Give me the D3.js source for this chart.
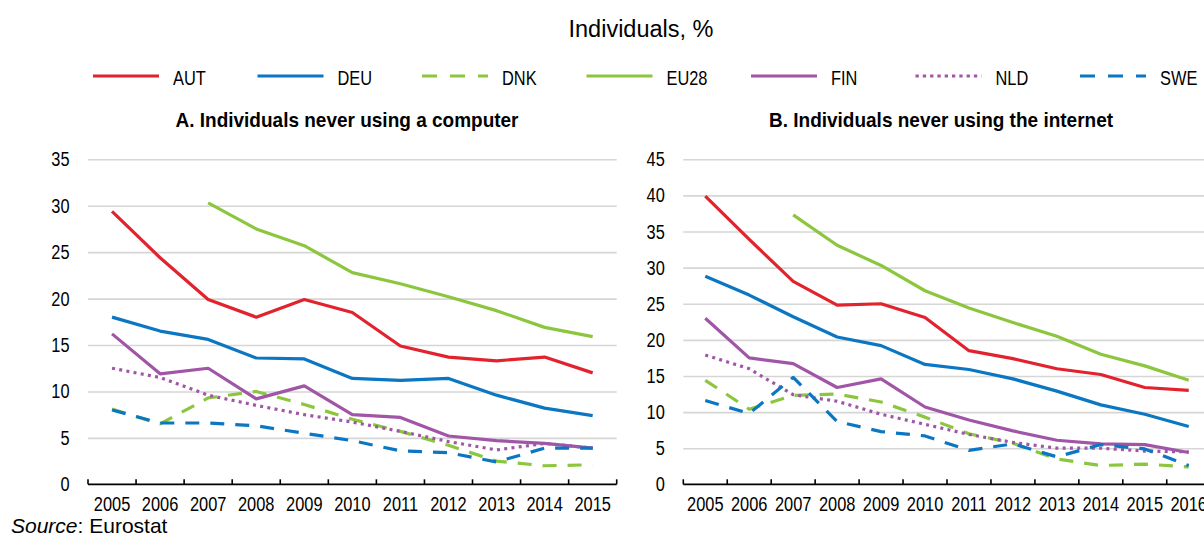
<!DOCTYPE html>
<html>
<head>
<meta charset="utf-8">
<script src="https://cdn.jsdelivr.net/npm/d3@7"></script>
<style>
  body { margin: 0; background: #fff; }
  svg { display: block; font-family: "Liberation Sans", Arial, sans-serif; }
</style>
</head>
<body>
<svg id="chart" width="1204" height="536"></svg>
<script>
// Panel A: individuals never using a computer (%)
const yearsA = [2005, 2006, 2007, 2008, 2009, 2010, 2011, 2012, 2013, 2014, 2015];
const autA  = [29.4, 24.4, 19.9, 18.0, 19.9, 18.5, 14.9, 13.7, 13.3, 13.7, 12.0];
const deuA  = [18.0, 16.5, 15.6, 13.6, 13.5, 11.4, 11.2, 11.4, 9.6, 8.2, 7.4];
const dnkA  = [8.1, 6.5, 9.3, 10.0, 8.6, 7.0, 5.7, 4.2, 2.5, 2.0, 2.1];
const eu28A = [null, null, 30.3, 27.5, 25.7, 22.8, 21.6, 20.2, 18.7, 16.9, 15.9];
const finA  = [16.2, 11.9, 12.5, 9.2, 10.6, 7.5, 7.2, 5.2, 4.7, 4.4, 3.9];
const nldA  = [12.5, 11.5, 9.6, 8.5, 7.5, 6.7, 5.7, 4.6, 3.7, 4.4, 3.9];
const sweA  = [8.0, 6.6, 6.6, 6.3, 5.5, 4.7, 3.6, 3.4, 2.4, 3.9, 3.9];

// Panel B: individuals never using the internet (%)
const yearsB = [2005, 2006, 2007, 2008, 2009, 2010, 2011, 2012, 2013, 2014, 2015, 2016];
const autB  = [39.9, 33.9, 28.1, 24.8, 25.0, 23.1, 18.5, 17.4, 16.0, 15.2, 13.4, 13.0];
const deuB  = [28.8, 26.2, 23.2, 20.4, 19.2, 16.6, 15.9, 14.6, 12.9, 11.0, 9.7, 8.0];
const dnkB  = [14.4, 10.4, 12.3, 12.5, 11.4, 9.3, 7.0, 5.7, 3.5, 2.6, 2.8, 2.4];
const eu28B = [null, null, 37.3, 33.1, 30.3, 26.8, 24.4, 22.4, 20.5, 18.0, 16.4, 14.4];
const finB  = [23.0, 17.5, 16.7, 13.4, 14.6, 10.7, 8.9, 7.4, 6.1, 5.6, 5.5, 4.4];
const nldB  = [17.9, 16.0, 12.4, 11.5, 9.7, 8.3, 6.9, 5.8, 5.0, 5.0, 4.6, 4.5];
const sweB  = [11.6, 9.8, 14.8, 8.7, 7.3, 6.7, 4.7, 5.6, 3.8, 5.5, 4.9, 2.6];

const countries = ["AUT", "DEU", "DNK", "EU28", "FIN", "NLD", "SWE"];
const ticksA = [0, 5, 10, 15, 20, 25, 30, 35];
const ticksB = [0, 5, 10, 15, 20, 25, 30, 35, 40, 45];

const styles = {
  AUT:  { color: "#e2232e", dash: null },
  DEU:  { color: "#0b77c2", dash: null },
  DNK:  { color: "#8cc63f", dash: "14,11" },
  EU28: { color: "#8cc63f", dash: null },
  FIN:  { color: "#a155a7", dash: null },
  NLD:  { color: "#a155a7", dash: "3,4.3" },
  SWE:  { color: "#0b77c2", dash: "14,11" }
};

const svg = d3.select("#chart");

// text squeezed horizontally to mimic the narrow font of the original
function label(parent, x, y, str, size, sx, anchor) {
  return parent.append("text")
    .attr("transform", `translate(${x},${y}) scale(${sx},1)`)
    .attr("text-anchor", anchor || "start")
    .style("font-size", size + "px")
    .text(str);
}

label(svg, 641, 36.7, "Individuals, %", 23.5, 1, "middle");

// legend
const legend = svg.append("g");
countries.forEach((c, i) => {
  const x0 = 93 + i * 164.5;
  legend.append("line")
    .attr("x1", x0).attr("x2", x0 + 66)
    .attr("y1", 76).attr("y2", 76)
    .attr("stroke", styles[c].color)
    .attr("stroke-width", 3)
    .attr("stroke-dasharray", styles[c].dash ? (c === "NLD" ? "3.3,4" : "15,13") : null);
  label(legend, x0 + 80, 84.5, c, 20, 0.82);
});

function panel(years, series, ticks, x0, x1, title, titleX) {
  const top = 159.3, bottom = 484.3;
  const x = d3.scaleBand().domain(years).range([x0, x1]);
  const y = d3.scaleLinear().domain([0, d3.max(ticks)]).range([bottom, top]);
  const g = svg.append("g");

  label(g, titleX, 127, title, 20, 0.95, "middle").style("font-weight", "bold");

  // grid
  g.append("g")
    .attr("transform", `translate(${x0},0)`)
    .call(d3.axisLeft(y).tickValues(ticks.filter(t => t > 0)).tickSize(-(x1 - x0)).tickFormat(""))
    .call(a => a.select(".domain").remove())
    .call(a => a.selectAll("line").attr("stroke", "#d6d6d6").attr("stroke-width", 1.6));

  // y labels
  ticks.forEach(t => label(g, x0 - 18.5, y(t) + 7, t, 19.5, 0.84, "end"));

  // lines
  const line = d3.line()
    .defined(d => d.v != null)
    .x(d => x(d.year) + x.bandwidth() / 2)
    .y(d => y(d.v));

  countries.forEach(c => {
    const pts = years.map((yr, i) => ({ year: yr, v: series[c][i] }));
    g.append("path")
      .datum(pts)
      .attr("fill", "none")
      .attr("stroke", styles[c].color)
      .attr("stroke-width", 3.2)
      .attr("stroke-linejoin", "round")
      .attr("stroke-dasharray", styles[c].dash)
      .attr("d", line);
  });

  // x axis
  const ax = g.append("g");
  ax.append("line")
    .attr("x1", x0).attr("x2", x1)
    .attr("y1", bottom).attr("y2", bottom)
    .attr("stroke", "#000").attr("stroke-width", 1.8);
  ax.selectAll(".tk")
    .data(years.map(yr => x(yr)).concat([x1]))
    .join("line")
    .attr("x1", d => d).attr("x2", d => d)
    .attr("y1", bottom).attr("y2", bottom - 5)
    .attr("stroke", "#000").attr("stroke-width", 1.6);
  years.forEach(yr => label(ax, x(yr) + x.bandwidth() / 2, 511, yr, 20.5, 0.8, "middle"));
}

panel(yearsA,
  { AUT: autA, DEU: deuA, DNK: dnkA, EU28: eu28A, FIN: finA, NLD: nldA, SWE: sweA },
  ticksA, 88, 616.7, "A. Individuals never using a computer", 347);

panel(yearsB,
  { AUT: autB, DEU: deuB, DNK: dnkB, EU28: eu28B, FIN: finB, NLD: nldB, SWE: sweB },
  ticksB, 683.3, 1210.7, "B. Individuals never using the internet", 941);

// source
const src = svg.append("text")
  .attr("x", 11).attr("y", 533)
  .style("font-size", "21px");
src.append("tspan").style("font-style", "italic").text("Source");
src.append("tspan").text(": Eurostat");
</script>
</body>
</html>
